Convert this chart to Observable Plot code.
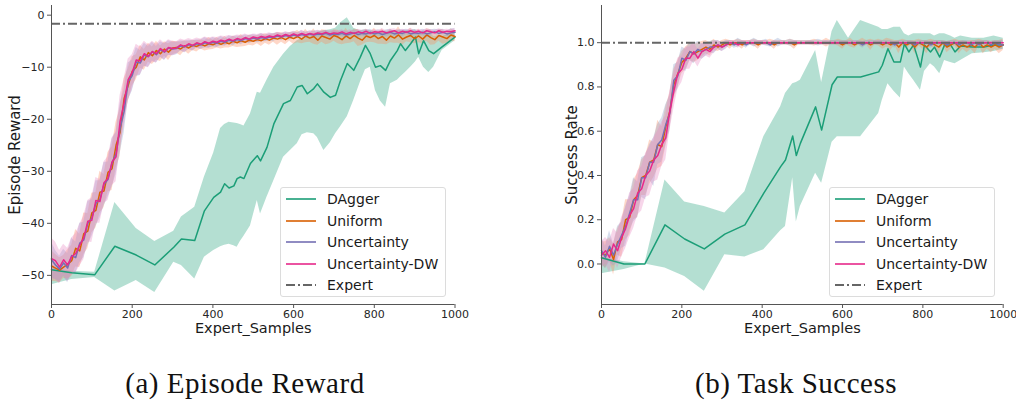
<!DOCTYPE html>
<html>
<head>
<meta charset="utf-8">
<script src="https://cdn.jsdelivr.net/npm/d3@7"></script>
<script src="https://cdn.jsdelivr.net/npm/@observablehq/plot@0.6"></script>
<style>
  html, body { margin: 0; padding: 0; background: #fff; }
  #wrap { position: relative; width: 1016px; height: 402px; overflow: hidden; font-family: "DejaVu Sans", sans-serif; }
  .panel { position: absolute; top: 0; }
  .legend { position: absolute; box-sizing: border-box; border: 1px solid #dcdcdc; border-radius: 3px; background: rgba(255,255,255,0.8); font-size: 14px; color: #1a1a1a; }
  .row { position: absolute; left: 0; height: 20px; line-height: 20px; white-space: nowrap; }
  .row svg { position: absolute; left: 4px; top: 0; }
  .row span { position: absolute; left: 46px; top: 0; }
  .caption { position: absolute; top: 367px; font-family: "Liberation Serif", "DejaVu Serif", serif; font-size: 29px; letter-spacing: 0.5px; color: #111; transform: translateX(-50%); white-space: nowrap; }
</style>
</head>
<body>
<div id="wrap"></div>
<script>
// ---------- shared ----------
const seriesNames = ["DAgger", "Uniform", "Uncertainty", "Uncertainty-DW", "Expert"];
const seriesColors = ["#1b9e77", "#d95f02", "#7570b3", "#e7298a", "#666666"];
const bandColors = ["#1b9e77", "#fc8d62", "#8da0cb", "#e78ac3"];
const xTicks = [0, 200, 400, 600, 800, 1000];
const rewardTicks = [0, -10, -20, -30, -40, -50];
const successTicks = [0, 0.2, 0.4, 0.6, 0.8, 1.0];
const panelTitles = ["(a) Episode Reward", "(b) Task Success"];
const xLabel = "Expert_Samples";
const yLabels = ["Episode Reward", "Success Rate"];
const expertReward = -1.65;
const expertSuccess = 1.0;

// learner sample grid (every 10 expert samples)
const learnerX = d3.range(0, 1001, 10);

// ---------- Episode reward: learners ----------
const rewUniform = [-48.2,-48.6,-49.0,-48.4,-47.9,-47.2,-44.8,-45.3,-42.0,-41.5,-38.0,
 -37.5,-34.0,-33.8,-30.2,-29.5,-25.0,-22.5,-16.0,-13.5,-10.8,
 -10.0,-8.0,-8.6,-7.2,-7.8,-6.8,-7.4,-6.5,-7.1,-6.3,
 -6.2,-6.5,-5.9,-6.3,-5.8,-6.0,-5.6,-5.9,-5.5,-5.7,
 -5.3,-5.6,-5.2,-5.5,-5.0,-5.3,-4.9,-5.2,-4.8,-5.0,
 -4.7,-4.9,-4.5,-4.8,-4.4,-4.6,-4.3,-4.7,-4.2,-4.5,
 -4.1,-4.6,-4.0,-4.4,-4.1,-4.8,-4.0,-4.3,-4.6,-3.9,
 -4.2,-4.7,-4.0,-4.5,-3.9,-4.4,-4.8,-4.0,-4.3,-3.9,
 -4.5,-4.1,-4.8,-4.0,-4.4,-3.8,-4.6,-4.2,-3.9,-4.5,
 -4.0,-4.6,-3.8,-4.3,-4.7,-3.9,-4.2,-4.5,-3.8,-4.1];
const rewUncert = [-47.0,-48.0,-48.8,-47.6,-48.6,-46.2,-46.6,-43.8,-43.2,-40.0,-39.0,
 -36.2,-35.4,-32.5,-31.6,-28.4,-26.6,-21.8,-18.5,-12.8,-11.6,
 -9.0,-9.2,-7.6,-8.0,-7.0,-7.6,-6.6,-7.1,-6.3,-6.5,
 -6.4,-5.9,-6.1,-5.7,-5.9,-5.5,-5.7,-5.3,-5.5,-5.2,
 -5.4,-5.0,-5.2,-4.8,-5.0,-4.7,-4.9,-4.5,-4.7,-4.4,
 -4.6,-4.3,-4.5,-4.2,-4.3,-4.0,-4.2,-3.9,-4.1,-3.8,
 -4.0,-3.7,-3.9,-3.6,-3.8,-3.6,-3.7,-3.5,-3.8,-3.6,
 -3.7,-3.5,-3.8,-3.6,-3.4,-3.7,-3.5,-3.6,-3.3,-3.6,
 -3.4,-3.7,-3.5,-3.3,-3.6,-3.4,-3.5,-3.2,-3.6,-3.4,
 -3.5,-3.3,-3.6,-3.4,-3.2,-3.5,-3.3,-3.6,-3.4,-3.3];
const rewDW = [-46.8,-47.2,-48.4,-47.0,-48.0,-46.4,-45.8,-44.2,-42.8,-39.6,-39.4,
 -35.6,-35.8,-32.2,-31.4,-28.2,-27.2,-20.4,-16.8,-12.4,-11.0,
 -8.6,-8.8,-7.4,-7.9,-7.0,-7.4,-6.4,-7.0,-6.2,-6.4,
 -6.3,-5.7,-6.0,-5.5,-5.8,-5.3,-5.6,-5.1,-5.4,-5.0,
 -5.2,-4.8,-5.0,-4.6,-4.9,-4.5,-4.7,-4.3,-4.6,-4.2,
 -4.4,-4.1,-4.3,-4.0,-4.2,-3.8,-4.1,-3.7,-4.0,-3.6,
 -3.9,-3.5,-3.8,-3.5,-3.7,-3.4,-3.6,-3.3,-3.6,-3.4,
 -3.5,-3.2,-3.6,-3.3,-3.5,-3.2,-3.4,-3.1,-3.5,-3.2,
 -3.3,-3.1,-3.4,-3.2,-3.0,-3.4,-3.1,-3.3,-3.0,-3.3,
 -3.1,-3.4,-3.0,-3.2,-3.4,-3.0,-3.3,-3.1,-3.2,-3.0];
const rewUniformSd = [3.0,2.6,2.4,2.2,2.8,3.0,3.6,3.2,4.0,3.4,3.8,
 3.4,4.0,3.2,3.8,4.2,4.4,4.6,3.8,3.2,2.8,
 2.4,2.2,2.0,1.8,1.7,1.8,1.5,1.4,1.6,1.3,
 1.1,1.3,1.0,1.2,1.0,1.1,0.9,1.0,1.2,0.9,
 1.0,0.9,1.1,0.8,1.0,0.9,1.2,0.8,1.0,0.9,
 0.8,1.1,0.9,1.0,0.8,1.2,0.9,1.0,0.8,1.1,
 1.2,0.9,1.3,0.8,1.5,1.0,1.2,1.4,0.9,1.1,
 1.3,1.0,1.5,0.9,1.2,1.6,1.0,1.3,0.9,1.4,
 1.1,1.5,0.9,1.3,1.0,1.6,1.2,0.9,1.4,1.0,
 1.3,0.9,1.2,1.5,1.0,1.1,1.4,0.9,1.2,1.0];
const rewUncertSd = [3.4,2.8,2.5,2.6,2.8,3.4,3.0,3.8,3.4,4.2,3.6,
 4.4,3.6,4.2,3.4,4.6,4.0,4.8,4.2,3.6,3.0,
 2.8,2.4,2.2,2.0,1.8,1.6,1.5,1.6,1.4,1.3,
 1.2,1.0,1.1,0.9,1.0,0.8,0.9,1.0,0.8,0.9,
 0.8,0.9,0.7,0.8,0.9,0.7,0.8,0.7,0.8,0.7,
 0.7,0.8,0.6,0.7,0.8,0.6,0.7,0.6,0.7,0.6,
 0.6,0.7,0.6,0.5,0.7,0.6,0.6,0.5,0.7,0.6,
 0.5,0.6,0.7,0.5,0.6,0.6,0.5,0.7,0.6,0.5,
 0.6,0.5,0.7,0.6,0.5,0.6,0.7,0.5,0.6,0.6,
 0.5,0.6,0.7,0.6,0.5,0.7,0.6,0.5,0.8,0.7];
const rewDWSd = [4.0,3.6,3.2,3.0,3.2,3.6,3.8,4.0,4.2,4.0,4.3,
 4.4,4.2,4.0,4.2,4.6,4.8,5.0,4.6,4.0,3.4,
 3.0,2.7,2.4,2.2,2.0,1.8,1.7,1.6,1.5,1.4,
 1.2,1.1,1.2,1.0,1.1,0.9,1.0,0.9,1.0,0.8,
 0.9,0.8,0.9,0.7,0.8,0.7,0.8,0.7,0.7,0.6,
 0.7,0.6,0.7,0.6,0.6,0.5,0.6,0.5,0.6,0.5,
 0.5,0.6,0.5,0.5,0.6,0.5,0.5,0.4,0.5,0.5,
 0.5,0.4,0.5,0.5,0.4,0.5,0.5,0.4,0.5,0.4,
 0.4,0.5,0.4,0.5,0.4,0.5,0.4,0.4,0.5,0.4,
 0.4,0.5,0.4,0.4,0.5,0.4,0.5,0.4,0.4,0.5];

// ---------- Episode reward: DAgger ----------
const rewDaggerX = [0,50,107,157,210,256,303,322,355,379,402,419,429,440,452,460,468,477,493,510,518,534,551,575,592,609,621,634,650,659,675,691,704,716,733,749,765,778,790,803,815,828,840,857,865,877,890,902,910,922,935,947,968,1000];
const rewDagger = [-48.9,-49.5,-49.9,-44.4,-46.1,-48.0,-44.6,-43.0,-43.3,-37.6,-35.0,-34.0,-32.4,-33.2,-32.8,-31.4,-31.1,-31.4,-28.5,-27.0,-28.0,-25.4,-20.9,-17.0,-16.4,-13.8,-13.5,-15.1,-14.1,-13.2,-14.8,-15.8,-15.4,-12.6,-9.3,-10.6,-8.1,-5.8,-7.4,-10.0,-9.7,-10.6,-8.7,-6.8,-5.5,-6.8,-5.5,-4.2,-7.4,-4.9,-6.8,-7.4,-6.1,-4.2];
const rewDaggerLo = [-51.8,-50.8,-50.4,-53.0,-51.0,-53.3,-47.5,-48.1,-50.7,-46.5,-45.2,-44.5,-44.2,-44.0,-44.3,-44.6,-43.5,-42.5,-40.5,-35.6,-38.2,-35.0,-31.8,-27.3,-26.0,-24.7,-23.0,-22.6,-22.8,-23.5,-26.0,-24.5,-22.8,-21.5,-19.5,-16.4,-13.0,-10.5,-10.0,-14.5,-16.5,-17.7,-13.2,-12.5,-11.9,-11.0,-10.0,-9.0,-8.1,-10.0,-11.0,-10.0,-6.8,-4.9];
const rewDaggerHi = [-48.6,-49.2,-49.4,-36.0,-41.0,-43.5,-41.5,-38.8,-36.9,-31.1,-26.5,-21.8,-21.0,-20.6,-20.7,-20.8,-21.0,-21.3,-19.0,-14.8,-15.0,-12.5,-10.0,-7.5,-6.0,-4.9,-4.5,-4.0,-3.6,-3.3,-3.0,-2.8,-2.5,-1.5,-0.5,-2.5,-3.0,-2.8,-3.0,-3.3,-3.3,-3.2,-3.0,-3.0,-3.0,-3.0,-2.9,-2.8,-3.5,-3.0,-3.5,-4.0,-4.0,-3.5];

// ---------- Task success: learners ----------
const sucUniform = [0.05,0.04,0.07,0.02,0.10,0.11,0.20,0.21,0.29,0.31,0.39,
 0.40,0.46,0.47,0.54,0.53,0.62,0.69,0.81,0.86,0.91,
 0.93,0.96,0.95,0.96,0.97,0.98,0.97,0.99,0.98,0.99,
 1.0,0.99,1.0,1.0,0.99,1.0,1.0,1.0,0.99,1.0,
 1.0,1.0,0.99,1.0,1.0,1.0,1.0,0.99,1.0,1.0,
 1.0,1.0,1.0,1.0,1.0,1.0,1.0,1.0,1.0,0.99,
 1.0,1.0,0.99,1.0,1.0,1.0,0.99,1.0,1.0,0.99,
 1.0,0.99,1.0,0.98,1.0,0.99,1.0,0.98,1.0,0.99,
 0.98,1.0,0.99,0.98,1.0,0.98,0.99,1.0,0.98,0.99,
 0.98,0.99,0.98,1.0,0.98,0.99,0.98,0.99,0.98,0.99];
const sucUncert = [0.06,0.03,0.08,0.04,0.09,0.13,0.17,0.23,0.29,0.29,0.39,
 0.39,0.46,0.46,0.54,0.56,0.63,0.68,0.83,0.85,0.93,
 0.92,0.96,0.95,0.97,0.96,0.97,0.98,0.98,0.99,0.98,
 0.99,1.0,0.99,1.0,1.0,0.99,1.0,1.0,1.0,1.0,
 1.0,0.99,1.0,1.0,1.0,1.0,1.0,1.0,1.0,1.0,
 1.0,1.0,1.0,1.0,1.0,1.0,1.0,1.0,1.0,1.0,
 1.0,1.0,1.0,1.0,0.99,1.0,1.0,1.0,1.0,1.0,
 1.0,1.0,0.99,1.0,1.0,1.0,1.0,0.99,1.0,1.0,
 1.0,0.99,1.0,1.0,1.0,0.99,1.0,1.0,0.99,1.0,
 1.0,0.99,1.0,0.99,1.0,1.0,0.99,1.0,0.99,0.99];
const sucDW = [0.04,0.06,0.03,0.09,0.06,0.12,0.16,0.22,0.25,0.32,0.34,
 0.40,0.42,0.47,0.49,0.54,0.57,0.69,0.78,0.86,0.88,
 0.93,0.93,0.96,0.93,0.96,0.97,0.96,0.98,0.99,0.98,
 0.99,1.0,1.0,0.99,1.0,1.0,1.0,1.0,1.0,1.0,
 1.0,1.0,1.0,1.0,1.0,1.0,1.0,1.0,1.0,1.0,
 1.0,1.0,1.0,1.0,1.0,1.0,1.0,1.0,1.0,1.0,
 1.0,1.0,1.0,1.0,1.0,1.0,1.0,1.0,1.0,1.0,
 1.0,1.0,1.0,1.0,1.0,1.0,1.0,1.0,1.0,1.0,
 1.0,1.0,1.0,1.0,1.0,1.0,1.0,1.0,1.0,1.0,
 1.0,1.0,1.0,1.0,1.0,1.0,1.0,1.0,1.0,1.0];
const sucUniformSd = [0.05,0.06,0.05,0.07,0.06,0.08,0.09,0.08,0.09,0.10,0.08,
 0.09,0.10,0.08,0.11,0.09,0.09,0.08,0.07,0.06,0.05,
 0.05,0.04,0.04,0.04,0.035,0.03,0.03,0.025,0.02,0.02,
 0.015,0.02,0.01,0.015,0.02,0.01,0.01,0.015,0.02,0.01,
 0.01,0.015,0.02,0.01,0.01,0.01,0.015,0.02,0.01,0.01,
 0.01,0.01,0.015,0.01,0.01,0.02,0.01,0.01,0.015,0.02,
 0.01,0.02,0.015,0.01,0.02,0.01,0.025,0.01,0.015,0.02,
 0.02,0.025,0.01,0.03,0.015,0.02,0.01,0.03,0.015,0.02,
 0.03,0.015,0.02,0.03,0.01,0.025,0.02,0.015,0.03,0.02,
 0.025,0.02,0.03,0.015,0.03,0.02,0.025,0.02,0.03,0.025];
const sucUncertSd = [0.06,0.05,0.07,0.05,0.08,0.06,0.09,0.08,0.10,0.08,0.09,
 0.10,0.08,0.11,0.09,0.10,0.09,0.08,0.07,0.06,0.05,
 0.05,0.04,0.045,0.035,0.035,0.03,0.025,0.03,0.02,0.02,
 0.02,0.01,0.015,0.02,0.01,0.015,0.01,0.02,0.01,0.01,
 0.015,0.01,0.01,0.02,0.01,0.01,0.015,0.01,0.01,0.01,
 0.01,0.01,0.01,0.015,0.01,0.01,0.01,0.01,0.01,0.01,
 0.01,0.01,0.01,0.01,0.015,0.01,0.01,0.01,0.01,0.01,
 0.01,0.01,0.015,0.01,0.01,0.01,0.01,0.015,0.01,0.01,
 0.01,0.015,0.01,0.01,0.01,0.015,0.01,0.01,0.015,0.01,
 0.01,0.015,0.01,0.02,0.01,0.01,0.015,0.01,0.02,0.02];
const sucDWSd = [0.06,0.06,0.07,0.07,0.08,0.09,0.09,0.10,0.09,0.10,0.10,
 0.10,0.11,0.10,0.11,0.10,0.10,0.09,0.08,0.07,0.06,
 0.05,0.05,0.04,0.04,0.035,0.03,0.03,0.025,0.02,0.02,
 0.015,0.01,0.01,0.015,0.01,0.01,0.01,0.01,0.01,0.01,
 0.01,0.005,0.01,0.005,0.01,0.005,0.005,0.01,0.005,0.005,
 0.005,0.01,0.005,0.005,0.005,0.01,0.005,0.005,0.005,0.005,
 0.005,0.005,0.01,0.005,0.005,0.005,0.005,0.005,0.01,0.005,
 0.005,0.005,0.005,0.005,0.005,0.005,0.005,0.005,0.005,0.005,
 0.005,0.005,0.005,0.005,0.005,0.005,0.005,0.005,0.005,0.005,
 0.005,0.005,0.005,0.005,0.005,0.005,0.005,0.005,0.005,0.005];

// ---------- Task success: DAgger ----------
const sucDaggerX = [0,56,108,158,207,256,307,357,404,446,458,476,485,495,533,548,574,587,615,645,690,699,713,728,744,754,765,777,794,804,819,829,842,854,869,880,894,923,952,977,1000];
const sucDagger = [0.028,0.0,0.0,0.177,0.113,0.068,0.135,0.177,0.32,0.44,0.47,0.578,0.49,0.545,0.71,0.605,0.81,0.845,0.845,0.845,0.868,0.898,0.973,0.913,0.913,0.995,0.958,0.99,0.89,0.99,0.958,0.98,0.935,0.99,0.99,0.958,0.985,0.98,0.98,0.99,0.99];
const sucDaggerLo = [-0.044,-0.025,0.0,-0.018,-0.056,-0.123,0.042,0.032,0.064,0.15,0.17,0.39,0.19,0.26,0.41,0.365,0.55,0.575,0.575,0.575,0.68,0.74,0.815,0.78,0.75,0.89,0.86,0.83,0.785,0.87,0.905,0.89,0.86,0.92,0.91,0.905,0.92,0.95,0.955,0.96,0.97];
const sucDaggerHi = [0.03,0.01,0.0,0.38,0.28,0.26,0.23,0.327,0.575,0.71,0.77,0.815,0.82,0.83,0.965,0.82,1.05,1.1,1.02,1.1,1.07,1.06,1.06,1.07,1.07,1.04,1.03,1.04,1.04,1.04,1.04,1.03,1.04,1.04,1.03,1.02,1.03,1.02,1.02,1.03,1.02];

// ---------- helpers ----------
function learnerTable(name, ys, sds) {
  return learnerX.map((x, i) => ({series: name, x, y: ys[i], lo: ys[i] - sds[i], hi: ys[i] + sds[i]}));
}
function daggerTable(xs, ys, lo, hi) {
  return xs.map((x, i) => ({series: "DAgger", x, y: ys[i], lo: lo[i], hi: hi[i]}));
}

function panel(opts) {
  const {dagger, learners, expert, yDomain, yTicks, yFormat, yLabel, yLabelDx, marginLeft, marginRight} = opts;
  const marks = [];
  marks.push(Plot.areaY(dagger, {x: "x", y1: "lo", y2: "hi", fill: bandColors[0], fillOpacity: 0.33}));
  learners.forEach((t, k) => marks.push(Plot.areaY(t, {x: "x", y1: "lo", y2: "hi", fill: bandColors[k + 1], fillOpacity: 0.35})));
  marks.push(Plot.lineY(dagger, {x: "x", y: "y", stroke: seriesColors[0], strokeWidth: 1.5}));
  learners.forEach((t, k) => marks.push(Plot.lineY(t, {x: "x", y: "y", stroke: seriesColors[k + 1], strokeWidth: 1.5})));
  marks.push(Plot.ruleY([expert], {stroke: seriesColors[4], strokeWidth: 2, strokeDasharray: "9,3,2,3"}));
  marks.push(Plot.ruleX([0], {stroke: "#555", strokeWidth: 1}));
  marks.push(Plot.ruleY([yDomain[0]], {stroke: "#555", strokeWidth: 1}));
  marks.push(Plot.axisX({ticks: xTicks, tickSize: 4, tickPadding: 2, fontSize: 11, label: null, tickFormat: d3.format("d"), stroke: "#555", fill: "#262626"}));
  marks.push(Plot.axisY({ticks: yTicks, tickSize: 4, tickPadding: 3, fontSize: 11, label: null, tickFormat: yFormat, stroke: "#555", fill: "#262626"}));
  marks.push(Plot.text([yLabel], {text: d => d, frameAnchor: "left", textAnchor: "middle", lineAnchor: "middle", dx: yLabelDx, rotate: -90, fontSize: 15, fill: "#1a1a1a"}));
  marks.push(Plot.text([xLabel], {text: d => d, frameAnchor: "bottom", textAnchor: "middle", lineAnchor: "middle", dy: 24, fontSize: 14.5, fill: "#1a1a1a"}));
  return Plot.plot({
    width: 508, height: 340,
    marginTop: 5, marginBottom: 36, marginLeft, marginRight,
    style: {fontFamily: "DejaVu Sans", background: "transparent", overflow: "visible"},
    x: {domain: [0, 1000]},
    y: {domain: yDomain},
    marks
  });
}

const left = panel({
  dagger: daggerTable(rewDaggerX, rewDagger, rewDaggerLo, rewDaggerHi),
  learners: [learnerTable("Uniform", rewUniform, rewUniformSd), learnerTable("Uncertainty", rewUncert, rewUncertSd), learnerTable("Uncertainty-DW", rewDW, rewDWSd)],
  expert: expertReward, yDomain: [-55.6, 1.86], yTicks: rewardTicks, yFormat: d3.format("d"),
  yLabel: yLabels[0], yLabelDx: -36, marginLeft: 51, marginRight: 53.5
});
const right = panel({
  dagger: daggerTable(sucDaggerX, sucDagger, sucDaggerLo, sucDaggerHi),
  learners: [learnerTable("Uniform", sucUniform, sucUniformSd), learnerTable("Uncertainty", sucUncert, sucUncertSd), learnerTable("Uncertainty-DW", sucDW, sucDWSd)],
  expert: expertSuccess, yDomain: [-0.183, 1.168], yTicks: successTicks, yFormat: d3.format(".1f"),
  yLabel: yLabels[1], yLabelDx: -29, marginLeft: 93, marginRight: 13.3
});

const wrap = document.getElementById("wrap");
left.classList.add("panel"); left.style.left = "0px";
right.classList.add("panel"); right.style.left = "508px";
wrap.appendChild(left);
wrap.appendChild(right);

function legend(x) {
  const box = document.createElement("div");
  box.className = "legend";
  Object.assign(box.style, {left: x + "px", top: "187px", width: "166px", height: "110px"});
  seriesNames.forEach((name, i) => {
    const row = document.createElement("div");
    row.className = "row";
    row.style.top = (1 + i * 21.5) + "px";
    const dash = i === 4 ? 'stroke-dasharray="9,3,2,3"' : "";
    row.innerHTML = `<svg width="32" height="20"><line x1="1" x2="31" y1="10" y2="10" stroke="${seriesColors[i]}" stroke-width="${i === 4 ? 2 : 1.6}" ${dash}/></svg><span>${name}</span>`;
    box.appendChild(row);
  });
  wrap.appendChild(box);
}
legend(280);
legend(829);

panelTitles.forEach((t, i) => {
  const c = document.createElement("div");
  c.className = "caption";
  c.style.left = (i === 0 ? 245 : 796) + "px";
  c.textContent = t;
  wrap.appendChild(c);
});
</script>
</body>
</html>
